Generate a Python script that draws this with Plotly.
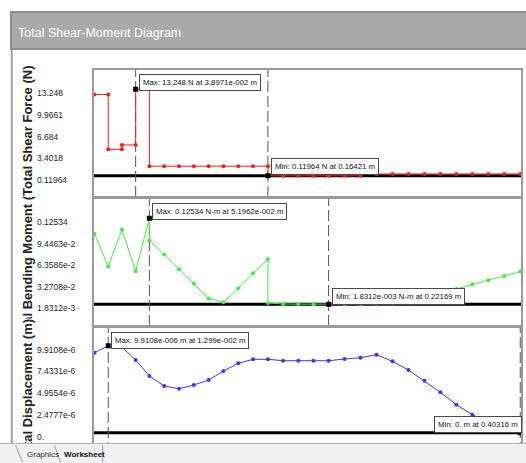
import plotly.graph_objects as go

W, H = 526, 463

# ---- beam data (positions in m) ----
x_nodes = [0.0, 0.01299, 0.02598, 0.038971, 0.051962, 0.06599, 0.08002, 0.09405,
           0.10808, 0.12212, 0.13615, 0.15018, 0.16421, 0.17858, 0.19295, 0.20732,
           0.22169, 0.23681, 0.25194, 0.26706, 0.28218, 0.29730, 0.31243, 0.32755,
           0.34267, 0.35779, 0.37292, 0.38804, 0.40316]

# total shear force (N), stepped
shear_x = [0.0, 0.01299, 0.01299, 0.02598, 0.02598, 0.038971, 0.038971, 0.051962,
           0.051962, 0.06599, 0.08002, 0.09405, 0.10808, 0.12212, 0.13615, 0.15018,
           0.16421, 0.16421, 0.17858, 0.19295, 0.20732, 0.22169, 0.23681, 0.25194,
           0.25194, 0.26706, 0.28218, 0.29730, 0.31243, 0.32755, 0.34267, 0.35779,
           0.37292, 0.38804, 0.40316]
shear_y = [12.47, 12.47, 4.14, 4.14, 4.80, 4.80, 13.248, 13.248,
           1.58, 1.58, 1.58, 1.58, 1.58, 1.58, 1.58, 1.58,
           1.58, 0.11964, 0.11964, 0.11964, 0.11964, 0.11964, 0.11964, 0.11964,
           0.40, 0.40, 0.40, 0.40, 0.40, 0.40, 0.40, 0.40,
           0.40, 0.40, 0.40]

# total bending moment (N-m)
moment_x = [0.0, 0.01299, 0.02598, 0.038971, 0.051962, 0.051962, 0.06599, 0.08002,
            0.09405, 0.10808, 0.12212, 0.13615, 0.15018, 0.16421, 0.16421, 0.17858,
            0.19295, 0.20732, 0.22169, 0.23681, 0.25194, 0.26706, 0.28218, 0.29730,
            0.31243, 0.32755, 0.34267, 0.34267, 0.35779, 0.37292, 0.38804, 0.40316]
moment_y = [0.1033, 0.0562, 0.1092, 0.0493, 0.12534, 0.0934, 0.0733, 0.0523,
            0.0317, 0.0101, 0.0048, 0.0248, 0.0464, 0.0665, 0.0037, 0.0023,
            0.0021, 0.0020, 0.0018312, 0.0019, 0.0022, 0.0026, 0.0030, 0.0034,
            0.0038, 0.0042, 0.0046, 0.0239, 0.0306, 0.0365, 0.0424, 0.0489]

# total displacement (m) at each node
disp_y = [9.11e-6, 9.9108e-6, 9.75e-6, 8.28e-6, 6.46e-6, 5.32e-6, 5.01e-6, 5.43e-6,
          6.00e-6, 7.03e-6, 7.90e-6, 8.36e-6, 8.36e-6, 8.20e-6, 8.20e-6, 8.20e-6,
          8.20e-6, 8.39e-6, 8.54e-6, 8.88e-6, 8.13e-6, 7.14e-6, 5.92e-6, 4.60e-6,
          3.19e-6, 2.05e-6, 1.20e-6, 0.55e-6, 0.0]

# axis tick values / labels
shear_ticks = [0.11964, 3.4018, 6.684, 9.9661, 13.248]
shear_tick_text = ["0.11964", "3.4018", "6.684", "9.9661", "13.248"]
moment_ticks = [1.8312e-3, 3.2708e-2, 6.3586e-2, 9.4463e-2, 0.12534]
moment_tick_text = ["1.8312e-3", "3.2708e-2", "6.3586e-2", "9.4463e-2", "0.12534"]
disp_ticks = [0.0, 2.4777e-6, 4.9554e-6, 7.4331e-6, 9.9108e-6]
disp_tick_text = ["0.", "2.4777e-6", "4.9554e-6", "7.4331e-6", "9.9108e-6"]

# extreme values and their callouts
shear_max = (0.038971, 13.248)
shear_min = (0.16421, 0.11964)
moment_max = (0.051962, 0.12534)
moment_min = (0.22169, 1.8312e-3)
disp_max = (0.01299, 9.9108e-6)
disp_min = (0.40316, 0.0)
shear_max_text = "Max: 13.248 N at 3.8971e-002 m"
shear_min_text = "Min: 0.11964 N at 0.16421 m"
moment_max_text = "Max: 0.12534 N-m at 5.1962e-002 m"
moment_min_text = "Min: 1.8312e-003 N-m at 0.22169 m"
disp_max_text = "Max: 9.9108e-006 m at 1.299e-002 m"
disp_min_text = "Min: 0. m at 0.40316 m"

titles = ["Total Shear Force (N)", "Total Bending Moment (N-m)", "Total Displacement (m)"]
window_title = "Total Shear-Moment Diagram"
tab_names = ["Graphics", "Worksheet"]

SANS = "Liberation Sans, Arial, sans-serif"


def px_x(p):
    return p / W


def px_y(p):
    return 1 - p / H


# panel geometry in pixels: (top, bottom), and pixel rows of max / min values
panels = [(70, 197), (198, 326), (327, 453)]
extreme_rows = [(89.3, 175.8), (218.3, 304.3), (345.7, 432.7)]
x_left_px, x_right_px, x_zero_px, px_per_m = 93.5, 521.0, 94.5, 1056.0


def y_range(vmin, vmax, top, bottom, pmax, pmin):
    upp = (vmax - vmin) / (pmin - pmax)
    return [vmin - (bottom - pmin) * upp, vmax + (pmax - top) * upp]


x_range = [(x_left_px - x_zero_px) / px_per_m, (x_right_px - x_zero_px) / px_per_m]

fig = go.Figure()

series = [
    (shear_x, shear_y, "#ff1a1a", shear_max, shear_min),
    (moment_x, moment_y, "#3cf03c", moment_max, moment_min),
    (x_nodes, disp_y, "#3636ff", disp_max, disp_min),
]

layout = dict(width=W, height=H, margin=dict(l=0, r=0, t=0, b=0),
              paper_bgcolor="white", plot_bgcolor="white",
              showlegend=False, hovermode=False)

shapes = []
annotations = []

ranges = [
    y_range(shear_min[1], shear_max[1], *panels[0], *extreme_rows[0]),
    y_range(moment_min[1], moment_max[1], *panels[1], *extreme_rows[1]),
    y_range(disp_min[1], disp_max[1], *panels[2], *extreme_rows[2]),
]

for i, (xs, ys, col, mx, mn) in enumerate(series):
    n = "" if i == 0 else str(i + 1)
    xa, ya = "x" + n, "y" + n
    top, bottom = panels[i]
    layout["xaxis" + n] = dict(domain=[px_x(x_left_px), px_x(x_right_px)], range=x_range,
                               anchor=ya, showline=True, mirror=True, linecolor="#9a9a9a",
                               linewidth=2, showgrid=False, zeroline=False,
                               showticklabels=False, ticks="", fixedrange=True)
    layout["yaxis" + n] = dict(domain=[px_y(bottom), px_y(top)], range=ranges[i],
                               anchor=xa, showline=True, mirror=True, linecolor="#9a9a9a",
                               linewidth=2, showgrid=False, zeroline=False,
                               showticklabels=False, ticks="", fixedrange=True)
    fig.add_trace(go.Scatter(x=xs, y=ys, xaxis=xa, yaxis=ya, mode="lines+markers",
                             line=dict(color=col, width=1),
                             marker=dict(color=col, size=4)))
    fig.add_trace(go.Scatter(x=[mx[0], mn[0]], y=[mx[1], mn[1]], xaxis=xa, yaxis=ya,
                             mode="markers",
                             marker=dict(color="black", size=5, symbol="square")))
    # baseline at the minimum value
    shapes.append(dict(type="line", xref=xa + " domain", yref=ya, x0=0, x1=1,
                       y0=mn[1], y1=mn[1], line=dict(color="black", width=3), layer="below"))
    # dashed markers at the extreme positions
    for xv in (mx[0], mn[0]):
        shapes.append(dict(type="line", xref=xa, yref=ya + " domain", x0=xv, x1=xv,
                           y0=0, y1=1, line=dict(color="#555555", width=1, dash="11px,4px"),
                           layer="below"))

# rotated axis titles, centred on their panels; later ones sit on top of earlier ones
title_rows = [131, 255, 390]
for i in (1, 0, 2):
    annotations.append(dict(text="<b>%s</b>" % titles[i], xref="paper", yref="paper",
                            x=px_x(27), y=px_y(title_rows[i]), textangle=-90,
                            xanchor="center", yanchor="middle", showarrow=False,
                            bgcolor="white", borderpad=0,
                            font=dict(family=SANS, size=13, color="#222222")))

# tick labels, left aligned in the label column
for i, (vals, texts) in enumerate([(shear_ticks, shear_tick_text),
                                    (moment_ticks, moment_tick_text),
                                    (disp_ticks, disp_tick_text)]):
    ya = "y" if i == 0 else "y" + str(i + 1)
    for v, t in zip(vals, texts):
        annotations.append(dict(text=t, xref="paper", yref=ya, x=px_x(34.5), y=v,
                                xanchor="left", yanchor="middle", yshift=-4, showarrow=False,
                                font=dict(family=SANS, size=8.5, color="#1e1e2a")))

# extreme callouts
callouts = [
    ("x", "y", shear_max, shear_max_text, "left", 3, -2),
    ("x", "y", shear_min, shear_min_text, "left", 3, 1),
    ("x2", "y2", moment_max, moment_max_text, "left", 3, -2),
    ("x2", "y2", moment_min, moment_min_text, "left", 3, -1),
    ("x3", "y3", disp_max, disp_max_text, "left", 3, -3),
    ("x3", "y3", disp_min, disp_min_text, "right", 2, 0),
]
for xa, ya, pt, txt, anc, xs, ysh in callouts:
    annotations.append(dict(text=txt, xref=xa, yref=ya, x=pt[0], y=pt[1],
                            xanchor=anc, yanchor="bottom", xshift=xs, yshift=ysh,
                            showarrow=False, bgcolor="white", bordercolor="#4a4a4a",
                            borderwidth=1, borderpad=3,
                            font=dict(family=SANS, size=7.8, color="#111111")))

# window chrome: title bar and left frame
shapes.append(dict(type="rect", xref="paper", yref="paper", x0=px_x(11), x1=px_x(530),
                   y0=px_y(49), y1=px_y(12), fillcolor="#a9a9a9",
                   line=dict(color="#8e8e8e", width=2), layer="above"))
shapes.append(dict(type="line", xref="paper", yref="paper", x0=px_x(11.8), x1=px_x(11.8),
                   y0=px_y(49), y1=px_y(443), line=dict(color="#a2a2a2", width=2),
                   layer="above"))
annotations.append(dict(text=window_title, xref="paper", yref="paper", x=px_x(16),
                        y=px_y(33), xanchor="left", yanchor="middle", showarrow=False,
                        font=dict(family=SANS, size=12.5, color="white")))

# tab strip along the bottom
annotations.append(dict(text=" ", xref="paper", yref="paper", x=px_x(-5), y=px_y(443),
                        xanchor="left", yanchor="top", width=540, height=30,
                        showarrow=False, bgcolor="#f0f0f0", bordercolor="#b4b4b4",
                        borderwidth=1, borderpad=0))
# tab outlines: (head x, head y, tail dx, tail dy) in pixels
tab_edges = [(22.5, 463, -7.5, -19), (60.5, 463, -6.5, -19), (102.7, 463, 0, -19)]
for hx, hy, dx, dy in tab_edges:
    annotations.append(dict(text="", xref="paper", yref="paper", x=px_x(hx), y=px_y(hy),
                            ax=dx, ay=dy, axref="pixel", ayref="pixel",
                            showarrow=True, arrowhead=0, arrowwidth=1, arrowcolor="#9a9a9a",
                            standoff=0, startstandoff=0))
annotations.append(dict(text=tab_names[0], xref="paper", yref="paper", x=px_x(24.5),
                        y=px_y(454), xanchor="left", yanchor="middle", showarrow=False,
                        font=dict(family=SANS, size=8, color="#333333")))
annotations.append(dict(text="<b>%s</b>" % tab_names[1], xref="paper", yref="paper",
                        x=px_x(61.5), y=px_y(454), xanchor="left", yanchor="middle",
                        showarrow=False, font=dict(family=SANS, size=8, color="#111111")))

layout["shapes"] = shapes
layout["annotations"] = annotations
fig.update_layout(**layout)
fig.write_html("out.html")
